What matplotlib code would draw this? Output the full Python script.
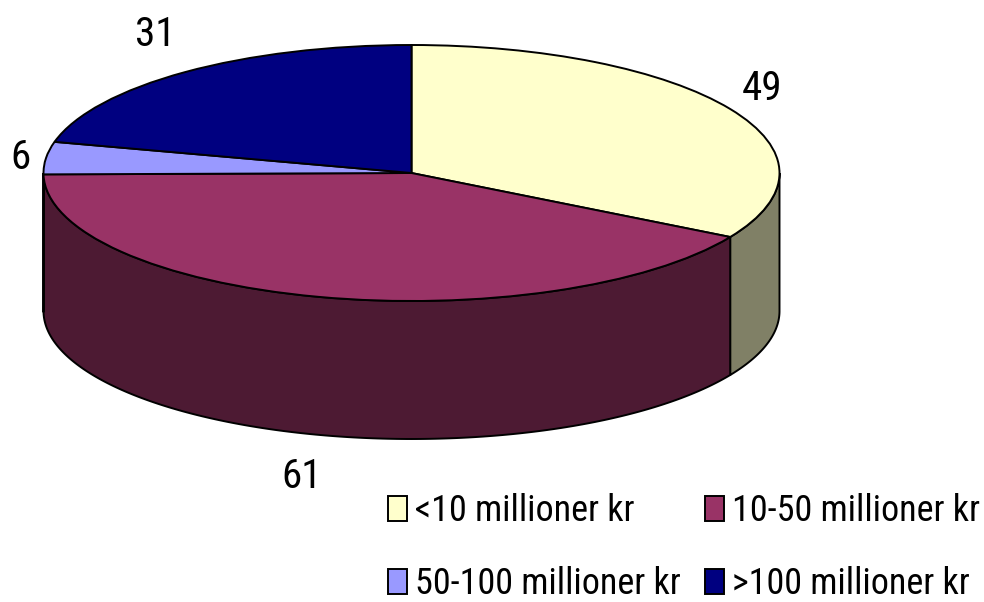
import matplotlib
matplotlib.use("Agg")
import matplotlib.pyplot as plt
import numpy as np
from matplotlib.patches import Patch

# 数据
labels = ["<10 millioner kr", "10-50 millioner kr", "50-100 millioner kr", ">100 millioner kr"]
values = [49, 61, 6, 31]
top_colors = ["#FFFFCC", "#993366", "#9999FF", "#000080"]
side_colors = ["#808066", "#4D1A33", "#4D4D80", "#000040"]

# 椭圆在图中的位置(像素)
W, H = 984, 602
cx, cy, rx, ry = 411.5, 173, 368, 128
depth = 138 / ry

plt.rcParams["font.family"] = ["Roboto Condensed", "Liberation Sans", "DejaVu Sans"]

fig = plt.figure(figsize=(W / 100, H / 100), dpi=100)
ax = fig.add_axes([0, 0, 1, 1])

# 顶面
wedges, _ = ax.pie(values, colors=top_colors, startangle=90, counterclock=False,
                   wedgeprops=dict(edgecolor="black", linewidth=1.4, zorder=3))
ax.set_aspect("auto")
ax.set_xlim(-cx / rx, (W - cx) / rx)
ax.set_ylim((cy - H) / ry, cy / ry)
ax.axis("off")

# 侧面:只画朝前的部分
edges = 90 - np.cumsum([0] + values) / sum(values) * 360
for i in range(len(values)):
    a0 = max(edges[i + 1], -180)
    a1 = min(edges[i], 0)
    if a1 <= a0:
        continue
    t = np.radians(np.linspace(a0, a1, 200))
    x = np.cos(t)
    y = np.sin(t)
    ax.fill(np.r_[x, x[::-1]], np.r_[y, y[::-1] - depth], facecolor=side_colors[i],
            edgecolor="black", linewidth=1.4, zorder=2)

# 数值标签
label_xy = [(762, 88), (302, 477), (21, 158), (155, 34)]
for v, (px, py) in zip(values, label_xy):
    ax.text((px - cx) / rx, (cy - py) / ry, str(v), fontsize=29.5, ha="center", va="center")

# 图例
handles = [Patch(facecolor=c, edgecolor="black", linewidth=1.4) for c in top_colors]
order = [0, 2, 1, 3]
fig.legend([handles[i] for i in order], [labels[i] for i in order], ncol=2, frameon=False,
           fontsize=26, loc="lower left", bbox_to_anchor=(388 / W, 0 / H), borderaxespad=0,
           borderpad=0, handlelength=0.52, handleheight=0.72, handletextpad=0.22,
           labelspacing=1.02, columnspacing=0.68)

fig.savefig("out.png", dpi=100)
